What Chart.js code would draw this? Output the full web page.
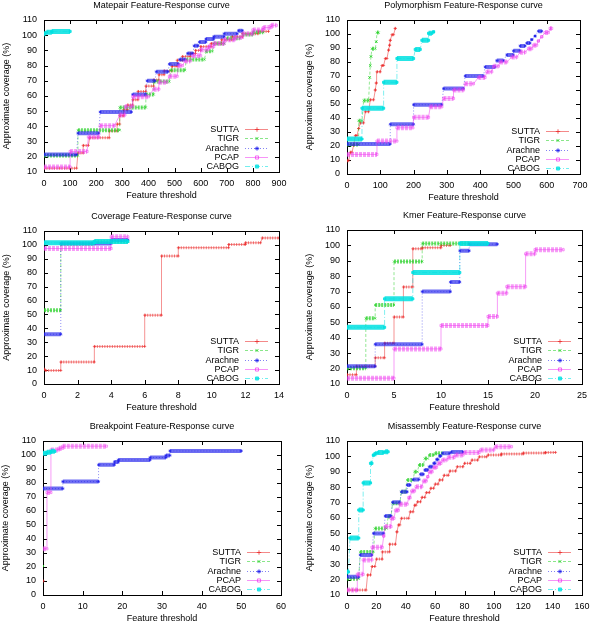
<!DOCTYPE html>
<html>
<head>
<meta charset="utf-8">
<script src="https://cdn.jsdelivr.net/npm/chart.js@4.4.0/dist/chart.umd.min.js"></script>
<style>
  html, body { margin: 0; padding: 0; background: #fff; }
  #wrap { position: relative; width: 595px; height: 624px; overflow: hidden; }
  #wrap canvas { position: absolute; }
</style>
</head>
<body>
<div id="wrap"></div>
<script>
// each level: [threshold from, threshold to, coverage %]
const matepairSutta = [[0,125,12.5],[130,150,22.5],[150,170,27.5],[175,250,32.5],[250,280,37],[280,290,41.5],[290,305,47],[305,320,51],[320,340,54],[340,360,57.5],[360,390,63],[390,420,66.5],[420,440,70.5],[440,460,74],[460,490,76.5],[490,510,79.5],[510,530,83.5],[530,560,86],[560,580,88],[580,600,90],[600,640,92.5],[640,680,94.5],[680,720,97],[720,760,99],[760,820,101],[820,860,102.5]];
const matepairTigr = [[0,130,20.8],[130,290,37.5],[290,390,52.5],[390,420,61],[420,480,69.5],[485,540,77],[545,615,84],[620,645,89.5],[650,690,94.5],[700,750,98],[760,800,100.5],[800,840,102]];
const matepairArachne = [[0,125,21.5],[130,210,35.5],[215,335,49.5],[340,390,61],[395,425,70],[430,475,76],[480,515,81],[520,540,84],[550,570,88],[575,590,93],[595,620,95.5],[620,650,97.5],[650,690,99],[690,740,101],[745,760,103]];
const matepairPcap = [[0,100,13.3],[100,165,23.5],[170,210,33],[215,270,40.5],[290,310,47.5],[310,340,53],[340,400,59.5],[420,440,64.5],[440,470,69],[480,510,73],[515,530,80],[540,560,83],[570,600,86.5],[600,630,90.5],[630,650,92.5],[650,690,94.5],[690,730,97],[730,760,98.5],[760,800,101],[800,840,103.5],[840,870,105],[870,890,106.5]];
const matepairCabog = [[0,5,101],[10,30,102],[30,100,102.5]];

const polySutta = [[0,5,9.5],[10,15,15.5],[20,20,20.5],[25,30,27.5],[35,35,32.5],[40,50,36.5],[55,65,44.5],[70,80,53],[85,85,60],[88,88,65],[90,100,73],[105,110,77.5],[115,120,82.5],[125,125,88.5],[128,128,92],[130,130,95.5],[135,140,99.5],[145,145,104]];
const polyTigr = [[0,35,21],[35,45,38],[50,65,52.5],[68,68,69],[70,70,77.5],[72,72,84],[75,85,89.5],[88,88,94.5],[90,95,101]];
const polyArachne = [[0,130,21.5],[130,200,35.5],[200,285,49.5],[290,350,61],[355,410,70],[415,445,76.5],[450,470,81],[480,500,85],[500,520,88],[520,535,91.5],[540,550,93.5],[555,555,96],[565,565,98.5],[575,585,102]];
const polyPcap = [[0,90,14],[90,150,23.5],[150,198,33],[200,245,40.5],[250,285,48],[290,320,54],[320,350,60],[355,380,64.5],[395,415,69],[420,435,73],[440,455,77],[460,480,80],[495,510,83.5],[520,535,87],[545,555,89.5],[560,570,92],[575,575,95],[585,585,98],[595,605,101],[610,615,104]];
const polyCabog = [[0,45,25],[45,110,47],[110,150,65.5],[150,200,82.5],[205,220,89],[225,245,95.5],[245,255,100.5],[260,260,101.5]];

const covSutta = [[0,0,10.7],[0.1,1,9.7],[1,3,15.8],[3,6,27],[6,7,49.5],[7,8,92],[8,11,98],[11,12,100.3],[12,12.9,101.5],[13,14,105]];
const covTigr = [[0,1,53],[1,3,101],[3,4,102.3],[4,5,102.5]];
const covArachne = [[0,1,35.8],[1,4,101],[4,5,103.6]];
const covPcap = [[0,4,97.4],[4,5,105.8]];
const covCabog = [[0,3,101.5],[3,5,102.5]];

const kmerSutta = [[0,1,16],[1,3,21.5],[3,4,27],[4,5,36.5],[5,6,53.5],[6,7,73],[7,8,97.8],[8,10,98.5],[10,11,100]];
const kmerTigr = [[0,2,20.3],[2,3,52.7],[3,5,61.3],[5,8,89.5],[8,13,101.2]];
const kmerArachne = [[0,3,21.5],[3,8,35.8],[8,11,70],[11,12,76.2],[12,13,96.5],[13,16,100.8]];
const kmerPcap = [[0,5,13.8],[5,10,32.8],[10,15,48],[15,16,53.8],[16,17,69],[17,19,73.2],[19,20,94.5],[20,23,97.2]];
const kmerCabog = [[0,4,46.8],[4,7,65.3],[7,12,82.4],[12,15,101.3]];

const breakSutta = [[0,0,10]];
const breakTigr = [[0,0,20.7]];
const breakArachne = [[0,5,76],[5,14,81],[14,18,93],[18,19,95],[19,27,96.5],[27,31,98.2],[31,32,99.7],[32,50,102.9]];
const breakPcap = [[0,1,33],[1,2,73.2],[2,4,103.6],[4,5,104.8],[5,16,106.3]];
const breakCabog = [[0,1,101.3],[1,2,102],[2,3,102.6]];

const misSutta = [[0,13,13.2],[14,16,23],[17,19,28.5],[20,24,33.3],[24,29,38],[29,33,43],[34,34,51],[35,36,55.5],[37,42,59.8],[43,45,64],[46,47,68.3],[48,50,70.5],[51,53,73.4],[54,56,76.5],[57,59,79.3],[60,62,82],[63,65,84.7],[66,69,87.7],[70,74,90.5],[75,79,93.3],[80,84,95.5],[85,89,97.6],[90,95,99.7],[96,105,100.9],[105,120,101.6],[120,135,102.2],[135,142,102.6]];
const misTigr = [[0,8,20.6],[9,18,38],[19,27,53.2],[28,30,61],[31,36,69.5],[37,40,77],[41,45,84.6],[46,48,90],[49,52,94.4],[53,55,98.6],[56,59,100.9],[60,65,102]];
const misArachne = [[0,8,21.8],[9,17,36],[18,25,50],[26,30,61.3],[31,36,70.2],[37,41,77],[41,43,81.4],[45,49,85],[50,52,88.4],[53,55,91.2],[56,58,93.3],[59,60,95.5],[61,62,98],[63,64,100.3],[65,70,102],[71,79,102.9]];
const misPcap = [[0,7,13.2],[7,11,23.4],[11,17,32.8],[17,24,41],[25,25,48.3],[26,30,54.4],[30,32,59.8],[33,35,65],[36,41,69],[42,43,73.2],[44,46,77.5],[47,51,80.3],[52,54,84],[55,55,86.8],[56,58,90],[59,61,92.9],[62,64,95.5],[65,68,97.7],[69,73,99.4],[74,79,100.9],[80,90,102.6],[91,100,104.2],[101,112,106.3]];
const misCabog = [[0,1,25],[2,8,47],[8,11,65.2],[11,16,82.8],[16,17,95.5],[18,18,100.8],[19,20,101.8],[21,25,102.5],[26,28,103]];

const seriesNames = ['SUTTA', 'TIGR', 'Arachne', 'PCAP', 'CABOG'];
const xTitle = 'Feature threshold';
const yTitle = 'Approximate coverage (%)';

const seriesRgb = ['235,40,40', '40,210,40', '30,30,235', '240,60,240', '0,225,225'];
const lineDash = [[], [3, 2], [1, 2], [], [5, 2, 1, 2]];
const bandWidth = [3, 4, 4, 5, 5];
const bandDash = [[1, 1.5], [2, 1], [], [3, 1], []];
const bandAlpha = [0.6, 0.7, 0.65, 0.5, 0.85];
const markStyle = ['cross', 'crossRot', 'star', 'rect', 'rect'];

const FONT = '9px "Liberation Sans", Arial, sans-serif';

// canvas rect [left, top, w, h] and plot area [left, top, right, bottom] inside the canvas
const panels = [
    { title: 'Matepair Feature-Response curve', sets: [matepairSutta, matepairTigr, matepairArachne, matepairPcap, matepairCabog], xMax: 900, xStep: 100, yMin: 10, rect: [0, 0, 297, 205], area: [44, 20, 279, 172] },
    { title: 'Polymorphism Feature-Response curve', sets: [polySutta, polyTigr, polyArachne, polyPcap, polyCabog], xMax: 700, xStep: 100, yMin: 0, rect: [297, 0, 298, 205], area: [50, 20, 283, 174] },
    { title: 'Coverage Feature-Response curve', sets: [covSutta, covTigr, covArachne, covPcap, covCabog], xMax: 14, xStep: 2, yMin: 0, rect: [0, 205, 297, 205], area: [44, 26, 279, 179] },
    { title: 'Kmer Feature-Response curve', sets: [kmerSutta, kmerTigr, kmerArachne, kmerPcap, kmerCabog], xMax: 25, xStep: 5, yMin: 10, rect: [297, 205, 298, 205], area: [50, 25, 285, 179] },
    { title: 'Breakpoint Feature-Response curve', sets: [breakSutta, breakTigr, breakArachne, breakPcap, breakCabog], xMax: 60, xStep: 10, yMin: 0, rect: [0, 410, 297, 214], area: [43, 31, 281, 185] },
    { title: 'Misassembly Feature-Response curve', sets: [misSutta, misTigr, misArachne, misPcap, misCabog], xMax: 160, xStep: 20, yMin: 10, rect: [297, 410, 298, 214], area: [50, 31, 285, 185] }
];

const Y_AXIS_W = 30;
const X_AXIS_H = 14;

// frame, inward ticks, titles and key drawn gnuplot-style
const gpFrame = {
    id: 'gpFrame',
    beforeDatasetsDraw: function (chart) {
        const a = chart.chartArea;
        const ctx = chart.ctx;
        const xs = chart.scales.x;
        const ys = chart.scales.y;
        ctx.save();
        ctx.strokeStyle = '#000';
        ctx.lineWidth = 1;
        ctx.beginPath();
        xs.ticks.forEach(function (t) {
            const px = Math.round(xs.getPixelForValue(t.value)) + 0.5;
            ctx.moveTo(px, a.bottom); ctx.lineTo(px, a.bottom - 4);
            ctx.moveTo(px, a.top); ctx.lineTo(px, a.top + 4);
        });
        ys.ticks.forEach(function (t) {
            const py = Math.round(ys.getPixelForValue(t.value)) + 0.5;
            ctx.moveTo(a.left, py); ctx.lineTo(a.left + 4, py);
            ctx.moveTo(a.right, py); ctx.lineTo(a.right - 4, py);
        });
        ctx.stroke();
        ctx.strokeRect(Math.round(a.left) + 0.5, Math.round(a.top) + 0.5, Math.round(a.right - a.left), Math.round(a.bottom - a.top));
        ctx.restore();
    },
    afterDraw: function (chart) {
        const opts = chart.options.plugins.gpFrame;
        const a = chart.chartArea;
        const ctx = chart.ctx;
        const cx = (a.left + a.right) / 2;
        ctx.save();
        ctx.fillStyle = '#000';
        ctx.font = FONT;
        ctx.textAlign = 'center';
        ctx.textBaseline = 'middle';
        ctx.fillText(opts.title, cx, a.top - 14);
        ctx.fillText(xTitle, cx, a.bottom + 24);
        ctx.save();
        ctx.translate(a.left - 37, (a.top + a.bottom) / 2);
        ctx.rotate(-Math.PI / 2);
        ctx.fillText(yTitle, 0, 0);
        ctx.restore();

        // key, bottom right inside the plot
        ctx.textAlign = 'right';
        for (let k = 0; k < 5; k++) {
            const y = a.bottom - 6 - (4 - k) * 9.2;
            ctx.fillStyle = '#000';
            ctx.fillText(seriesNames[k], a.right - 40, y + 0.5);
            ctx.strokeStyle = 'rgba(' + seriesRgb[k] + ',0.55)';
            ctx.lineWidth = 1;
            ctx.setLineDash(lineDash[k]);
            ctx.beginPath();
            ctx.moveTo(a.right - 34, Math.round(y) + 0.5);
            ctx.lineTo(a.right - 11, Math.round(y) + 0.5);
            ctx.stroke();
            ctx.setLineDash([]);
            ctx.strokeStyle = 'rgba(' + seriesRgb[k] + ',0.75)';
            ctx.fillStyle = k === 3 ? 'rgba(0,0,0,0)' : 'rgba(' + seriesRgb[k] + ',0.75)';
            Chart.helpers.drawPoint(ctx, { pointStyle: markStyle[k], radius: 2.2, borderWidth: 1, rotation: 0 }, a.right - 22, Math.round(y) + 0.5);
        }
        ctx.restore();
    }
};

function buildDatasets(sets) {
    const out = [];
    sets.forEach(function (levels, k) {
        const line = [];
        const band = [];
        levels.forEach(function (lv, i) {
            line.push({ x: lv[0], y: lv[2] }, { x: lv[1], y: lv[2] });
            if (i > 0) band.push({ x: lv[0], y: null });
            band.push({ x: lv[0], y: lv[2] }, { x: lv[1], y: lv[2] });
        });
        const rgb = seriesRgb[k];
        out.push({
            label: seriesNames[k] + ' line',
            data: line,
            order: 10 - k * 2,
            borderColor: 'rgba(' + rgb + ',0.5)',
            borderWidth: 1,
            borderDash: lineDash[k],
            pointRadius: 0,
            tension: 0
        });
        out.push({
            label: seriesNames[k],
            data: band,
            order: 9 - k * 2,
            borderColor: 'rgba(' + rgb + ',' + bandAlpha[k] + ')',
            borderWidth: bandWidth[k],
            borderDash: bandDash[k],
            borderCapStyle: 'butt',
            pointStyle: markStyle[k],
            pointRadius: 1.5,
            pointBorderWidth: 1,
            pointBorderColor: 'rgba(' + rgb + ',' + bandAlpha[k] + ')',
            pointBackgroundColor: k === 3 ? 'rgba(255,255,255,0)' : 'rgba(' + rgb + ',' + bandAlpha[k] + ')',
            spanGaps: false,
            tension: 0
        });
    });
    return out;
}

Chart.defaults.font.family = '"Liberation Sans", Arial, sans-serif';
Chart.defaults.font.size = 9;
Chart.defaults.color = '#000';

const wrap = document.getElementById('wrap');
panels.forEach(function (p) {
    const cv = document.createElement('canvas');
    cv.width = p.rect[2];
    cv.height = p.rect[3];
    cv.style.left = p.rect[0] + 'px';
    cv.style.top = p.rect[1] + 'px';
    cv.style.width = p.rect[2] + 'px';
    cv.style.height = p.rect[3] + 'px';
    wrap.appendChild(cv);

    new Chart(cv.getContext('2d'), {
        type: 'line',
        data: { datasets: buildDatasets(p.sets) },
        plugins: [gpFrame],
        options: {
            responsive: false,
            animation: false,
            devicePixelRatio: 1,
            layout: {
                padding: {
                    left: p.area[0] - Y_AXIS_W,
                    top: p.area[1],
                    right: p.rect[2] - p.area[2],
                    bottom: p.rect[3] - p.area[3] - X_AXIS_H
                }
            },
            plugins: {
                legend: { display: false },
                tooltip: { enabled: false },
                title: { display: false },
                gpFrame: { title: p.title }
            },
            scales: {
                x: {
                    type: 'linear',
                    min: 0,
                    max: p.xMax,
                    grid: { display: false, drawTicks: false },
                    border: { display: false },
                    ticks: { stepSize: p.xStep, padding: 6, maxRotation: 0, autoSkip: false },
                    afterFit: function (s) { s.height = X_AXIS_H; s.paddingLeft = 0; s.paddingRight = 0; }
                },
                y: {
                    min: p.yMin,
                    max: 110,
                    grid: { display: false, drawTicks: false },
                    border: { display: false },
                    ticks: { stepSize: 10, padding: 7, autoSkip: false },
                    afterFit: function (s) { s.width = Y_AXIS_W; s.paddingTop = 0; s.paddingBottom = 0; }
                }
            }
        }
    });
});
</script>
</body>
</html>
